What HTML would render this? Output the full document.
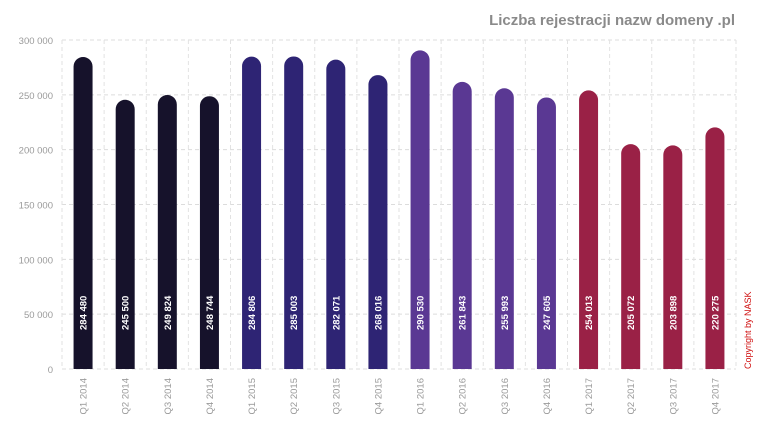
<!DOCTYPE html>
<html><head><meta charset="utf-8"><style>
body{margin:0;background:#fff;font-family:"Liberation Sans",sans-serif}
</style></head><body>
<svg width="767" height="426" viewBox="0 0 767 426" id="c">
<text x="735" y="25" text-anchor="end" font-size="15" font-weight="bold" fill="#8a8a8a">Liczba rejestracji nazw domeny .pl</text>
<text transform="translate(751,369) rotate(-90)" font-size="9" fill="#d01010">Copyright by NASK</text>
</svg>
<script>
const categories=["Q1 2014","Q2 2014","Q3 2014","Q4 2014","Q1 2015","Q2 2015","Q3 2015","Q4 2015","Q1 2016","Q2 2016","Q3 2016","Q4 2016","Q1 2017","Q2 2017","Q3 2017","Q4 2017"];
const values=[284480,245500,249824,248744,284806,285003,282071,268016,290530,261843,255993,247605,254013,205072,203898,220275];
const valueLabels=["284 480","245 500","249 824","248 744","284 806","285 003","282 071","268 016","290 530","261 843","255 993","247 605","254 013","205 072","203 898","220 275"];
const yTicks=[0,50000,100000,150000,200000,250000,300000];
const yTickLabels=["0","50 000","100 000","150 000","200 000","250 000","300 000"];
const yearColors=["#16122b","#2e2474","#5a3893","#9a2146"];
const svg=document.getElementById('c');const NS="http://www.w3.org/2000/svg";
const x0=62,x1=736,y0=369,y1=40,maxV=300000;
const bw=(x1-x0)/categories.length;
const ys=v=>y0-(v/maxV)*(y0-y1);
function mk(t,a,p){const e=document.createElementNS(NS,t);for(const k in a)e.setAttribute(k,a[k]);(p||svg).appendChild(e);return e;}
yTicks.forEach((t,i)=>{
 const l=mk('line',{x1:x0,x2:x1,y1:ys(t),y2:ys(t),stroke:'#dcdcdc','stroke-dasharray':'4,3'});
 
 
 const tx=mk('text',{x:53,y:ys(t)+4,'text-anchor':'end','font-size':'9.5',fill:'#9a9a9a'});
 tx.textContent=yTickLabels[i];
 
 
});
for(let i=0;i<=categories.length;i++){
 const l=mk('line',{x1:x0+i*bw,x2:x0+i*bw,y1:y1,y2:y0,stroke:'#e2e2e2','stroke-dasharray':'4,3'});
 
 
}
categories.forEach((c,i)=>{
 const cx=x0+bw*(i+0.5),w=19,top=ys(values[i]),r=w/2;
 const p=mk('path',{d:`M${cx-r},${y0}V${top+r}A${r},${r} 0 0 1 ${cx+r},${top+r}V${y0}Z`,fill:yearColors[Math.floor(i/4)]});
 
 
 const vt=mk('text',{transform:`translate(${cx+3.5},330) rotate(-90)`,'font-size':'9.5','font-weight':'bold',fill:'#fff'});
 vt.textContent=valueLabels[i];
 
 
 const xt=mk('text',{transform:`translate(${cx+3.5},378) rotate(-90)`,'font-size':'9.5',fill:'#9a9a9a','text-anchor':'end'});
 xt.textContent=c;
 
 
});
</script>
</body></html>
